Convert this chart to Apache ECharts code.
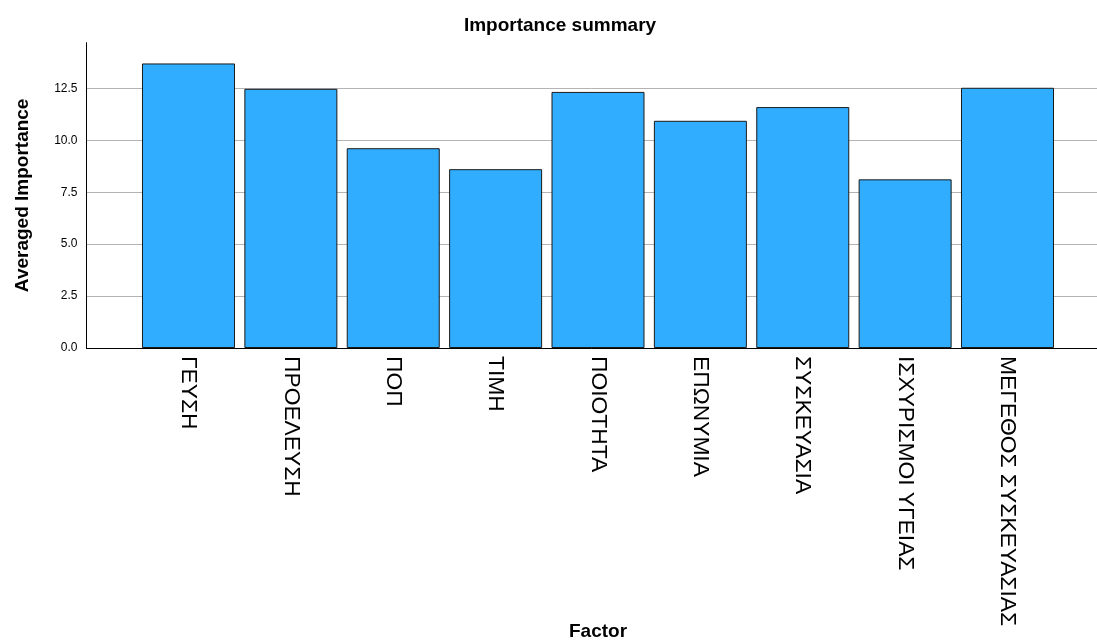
<!DOCTYPE html>
<html>
<head>
<meta charset="utf-8">
<script src="https://cdn.jsdelivr.net/npm/echarts@6/dist/echarts.min.js"></script>
<style>
html,body{margin:0;padding:0;background:#fff;}
#chart{width:1097px;height:641px;}
</style>
</head>
<body>
<div id="chart"></div>
<script>
const categories = ['ΓΕΥΣΗ','ΠΡΟΕΛΕΥΣΗ','ΠΟΠ','ΤΙΜΗ','ΠΟΙΟΤΗΤΑ','ΕΠΩΝΥΜΙΑ','ΣΥΣΚΕΥΑΣΙΑ','ΙΣΧΥΡΙΣΜΟΙ ΥΓΕΙΑΣ','ΜΕΓΕΘΟΣ ΣΥΣΚΕΥΑΣΙΑΣ'];
const importance = [13.70, 12.48, 9.62, 8.61, 12.33, 10.94, 11.60, 8.12, 12.53];
const yTicks = [0, 2.5, 5, 7.5, 10, 12.5];
const yMax = 14.7;

const chart = echarts.init(document.getElementById('chart'), null, {renderer:'canvas'});
const font = '"Liberation Sans", Arial, sans-serif';
chart.setOption({
  animation: false,
  backgroundColor: '#ffffff',
  title: {
    text: 'Importance summary',
    left: 555, top: 11, textAlign: 'center',
    textStyle: {fontFamily: font, fontWeight: 'bold', fontSize: 19, color: '#000'}
  },
  grid: [
    {left: 86.5, right: 0, top: 42.7, bottom: 293, containLabel: false, outerBoundsMode: 'none'},
    {left: 137.3, right: 38.3, top: 42.7, bottom: 293, containLabel: false, outerBoundsMode: 'none'}
  ],
  xAxis: [
    {gridIndex: 0, type: 'value', min: 0, max: 1,
     axisLine: {show: true, lineStyle: {color: '#000', width: 1}},
     axisTick: {show: false}, axisLabel: {show: false}, splitLine: {show: false}},
    {gridIndex: 1, type: 'category', data: categories,
     name: 'Factor', nameLocation: 'middle', nameGap: 274, nameMoveOverlap: false,
     nameTextStyle: {fontFamily: font, fontWeight: 'bold', fontSize: 19, color: '#000'},
     axisLine: {show: false}, axisTick: {show: false},
     axisLabel: {rotate: -90, margin: 8, fontFamily: font, fontSize: 22.8, color: '#000', interval: 0}}
  ],
  yAxis: [
    {gridIndex: 0, type: 'value', min: 0, max: yMax, interval: 2.5,
     name: 'Averaged Importance', nameLocation: 'middle', nameGap: 54, nameRotate: 90, nameMoveOverlap: false,
     nameTextStyle: {fontFamily: font, fontWeight: 'bold', fontSize: 19, color: '#000'},
     axisLine: {show: true, lineStyle: {color: '#000', width: 1}},
     axisTick: {show: false},
     axisLabel: {margin: 9, fontFamily: font, fontSize: 12, color: '#000',
       showMaxLabel: false,
       formatter: v => yTicks.indexOf(v) >= 0 ? v.toFixed(1) : ''},
     splitLine: {show: true, showMaxLine: false, lineStyle: {color: '#b4b4b4', width: 1}}},
    {gridIndex: 1, type: 'value', min: 0, max: yMax, show: false, splitLine: {show: false}}
  ],
  series: [{
    type: 'bar', xAxisIndex: 1, yAxisIndex: 1,
    data: importance, barWidth: 93,
    itemStyle: {color: '#31adff', borderColor: '#1a1a1a', borderWidth: 1}
  }]
});
</script>
</body>
</html>
